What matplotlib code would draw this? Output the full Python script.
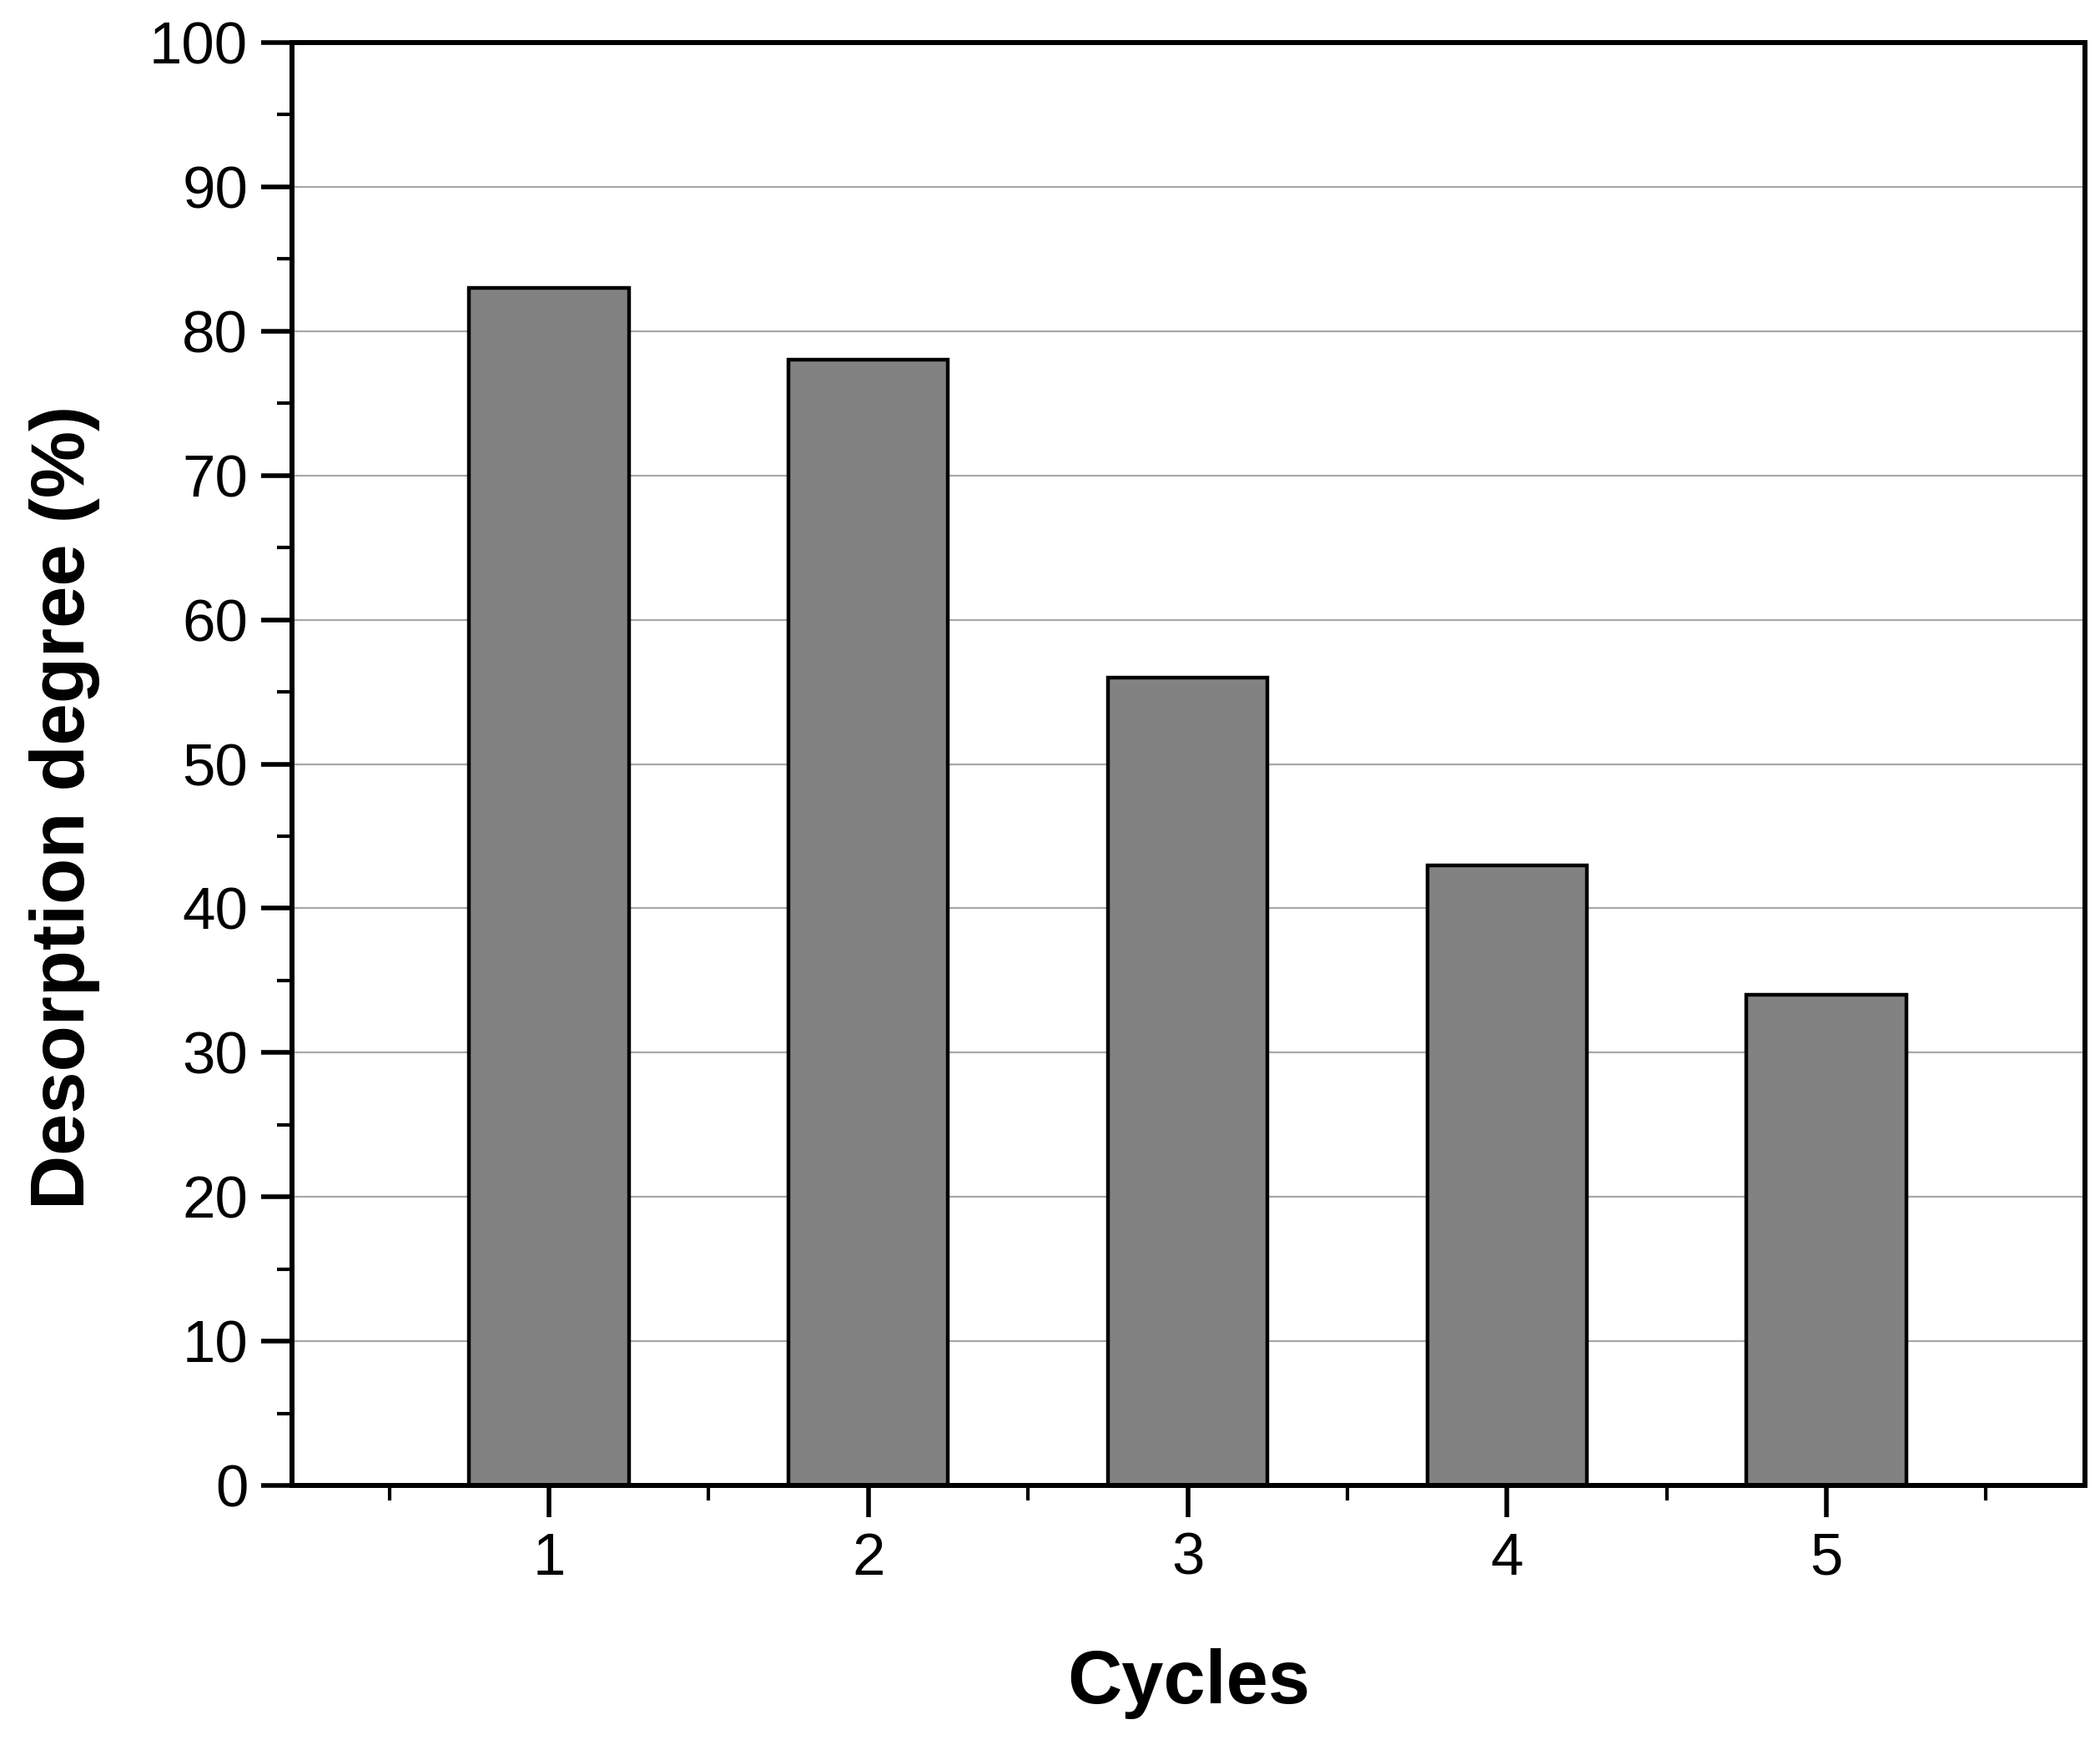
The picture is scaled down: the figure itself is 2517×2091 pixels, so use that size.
import matplotlib
matplotlib.use("Agg")
import matplotlib.pyplot as plt
from matplotlib.ticker import MultipleLocator

cycles = [1, 2, 3, 4, 5]
desorption = [83, 78, 56, 43, 34]
y_ticks = [0, 10, 20, 30, 40, 50, 60, 70, 80, 90, 100]
x_label = "Cycles"
y_label = "Desorption degree (%)"

plt.rcParams['font.family'] = ['Liberation Sans', 'DejaVu Sans']

W, H, DPI = 2517, 2091, 100
fig = plt.figure(figsize=(W / DPI, H / DPI), dpi=DPI)
ax = fig.add_axes([350 / W, 1 - 1780 / H, (2499 - 350) / W, (1780 - 51) / H])

ax.bar(cycles, desorption, width=0.5, color='#828282', edgecolor='black',
       linewidth=3.2, zorder=3)

ax.set_xlim(0.195, 5.81)
ax.set_ylim(0, 100)
ax.set_yticks(y_ticks)
ax.set_xticks(cycles)
ax.yaxis.set_minor_locator(MultipleLocator(5))
ax.xaxis.set_minor_locator(MultipleLocator(0.5))

for v in y_ticks[1:-1]:
    ax.axhline(v, color='#a8a8a8', linewidth=1.6, zorder=1)

for s in ax.spines.values():
    s.set_linewidth(4.3)
    s.set_zorder(5)

ax.tick_params(axis='both', which='major', direction='out', length=27,
               width=4.0, labelsize=51, pad=11)
ax.tick_params(axis='both', which='minor', direction='out', length=13,
               width=3.0)
ax.tick_params(axis='x', which='major', pad=13)
ax.tick_params(top=False, right=False, which='both')

fig.text(78 / W, 1 - 967 / H, y_label, rotation=90,
         ha='center', va='center', fontsize=65, fontweight='bold')
fig.text((350 + 2499) / 2 / W, 1 - 2017 / H, x_label,
         ha='center', va='center', fontsize=65, fontweight='bold')

fig.savefig("out.png", dpi=DPI)
